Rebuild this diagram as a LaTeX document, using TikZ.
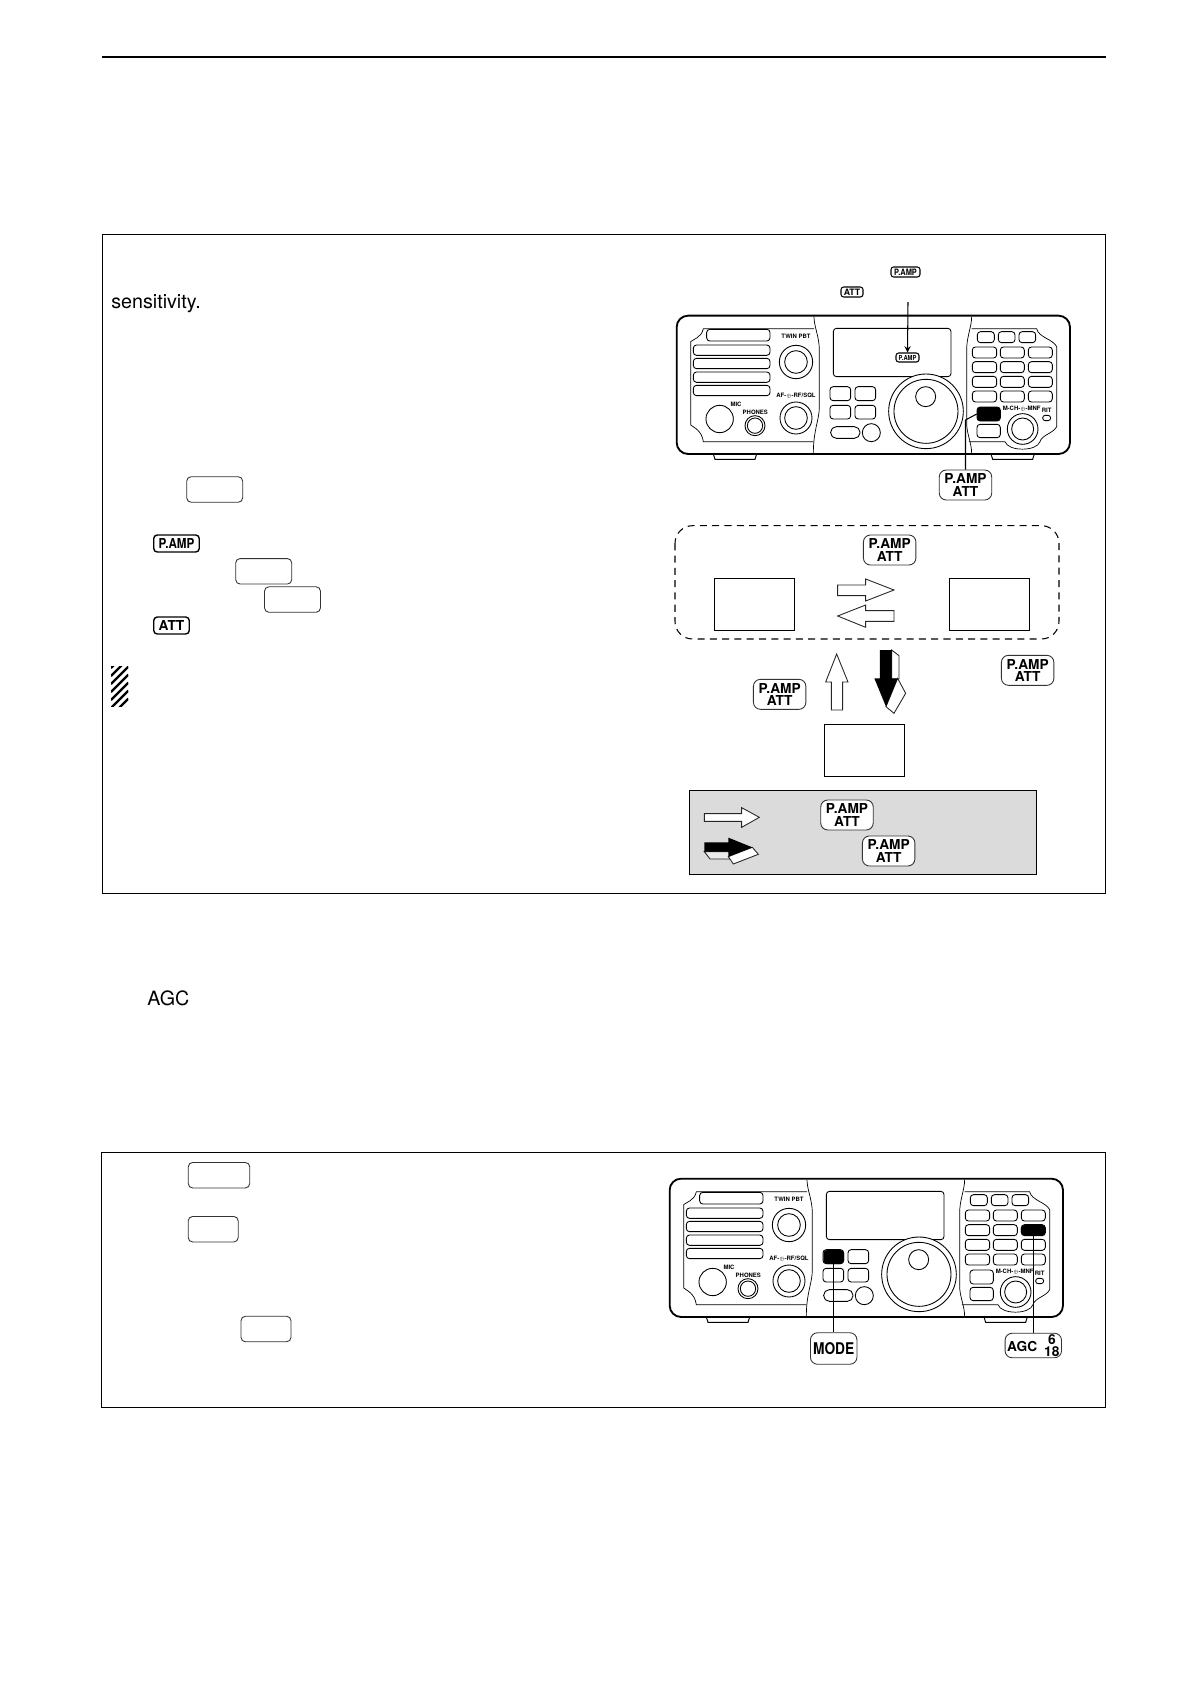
\documentclass[tikz,border=0pt]{standalone}
\usepackage{fontspec}
\setmainfont{TeX Gyre Heros}
\usetikzlibrary{arrows, positioning}

\newcommand{\squeezed}[1]{\scalebox{.85}[1]{#1}}
\newcommand{\knobmark}{\scalebox{.55}{$\oplus$}}

\tikzset{
    framebox/.style={draw, line width=.6pt},
    blankkey/.style={draw=black!80, line width=.5pt, rounded corners=2.5pt, inner sep=0pt, minimum height=.51cm},
    twokey/.style={draw=black!80, fill=white, line width=.5pt, rounded corners=4pt, inner sep=0pt,
        minimum width=1.05cm, minimum height=.6cm, align=center,
        font=\bfseries\fontsize{7.8}{7.2}\selectfont},
    tagbig/.style={draw, line width=.8pt, rounded corners=2pt, inner sep=0pt, minimum height=.34cm,
        font=\bfseries\fontsize{7.8}{8}\selectfont},
    tagsmall/.style={draw, line width=.6pt, rounded corners=1.5pt, fill=white, inner sep=0pt, minimum height=.2cm,
        font=\bfseries\fontsize{5}{5}\selectfont},
    statebox/.style={draw, line width=.5pt, inner sep=0pt, minimum width=1.6cm, minimum height=1.04cm},
    blackkey/.style={fill=black, rounded corners=2pt, inner sep=0pt},
    fatarrow/.style={draw=black!85, fill=white, line width=.5pt},
    panelline/.style={line width=.4pt},
    ctl/.style={draw, line width=.5pt, rounded corners=1.8pt},
    ctllabel/.style={inner sep=0pt, font=\bfseries\fontsize{3.4}{4}\selectfont},
    pics/radio/.style={code={
        \begin{scope}[x=.00667cm, y=-.00667cm]
            % Body and feet
            \draw[line width=.55pt, fill=white] (160,612) -- (165,628) -- (285,628) -- (290,612);
            \draw[line width=.55pt, fill=white] (993,612) -- (998,628) -- (1118,628) -- (1123,612);
            \draw[line width=1.05pt, rounded corners=6.5pt, fill=white] (50,197) rectangle (1230,612);
            % Panel lines
            \draw[panelline] (462,200) .. controls (462,230) and (478,260) .. (478,300) -- (478,470)
                .. controls (478,510) and (460,540) .. (460,610);
            \draw[panelline] (462,236) -- (130,236) .. controls (125,262) and (100,268) .. (92,275)
                -- (92,525) .. controls (100,532) and (125,540) .. (130,575) -- (460,575);
            \draw[panelline] (935,200) .. controls (935,230) and (920,260) .. (920,300) -- (920,520)
                .. controls (920,550) and (935,580) .. (935,610);
            \draw[panelline] (935,236) -- (1130,236) .. controls (1135,262) and (1180,268) .. (1190,290)
                -- (1190,530) .. controls (1180,550) and (1145,555) .. (1140,575);
            \draw[panelline] (927,575) -- (1035,575) .. controls (1045,605) and (1130,605) .. (1140,575);
            % Display
            \draw[ctl] (520,235) rectangle (873,380);
            % Left slots
            \draw[ctl] (140,238) rectangle (330,273);
            \foreach \sy in {285,325,366,406}
                \draw[ctl] (100,\sy) rectangle (330,\sy+31);
            % Left knobs and jacks
            \draw[ctl] (408,336) circle (50);
            \draw[ctl] (408,336) circle (34);
            \draw[ctl] (408,504) circle (48);
            \draw[ctl] (408,504) circle (34);
            \draw[ctl] (179,507) circle (41);
            \draw[ctl] (285,527) circle (30);
            \draw[ctl] (285,527) circle (23);
            \node[ctllabel] (twin) at (408,258) {TWIN PBT};
            \node[ctllabel] (afrf) at (408,436) {AF-\knobmark-RF/SQL};
            \node[ctllabel] (mic) at (228,464) {MIC};
            \node[ctllabel] (phones) at (286,487) {PHONES};
            % Centre keys
            \draw[ctl] (510,410) rectangle (572,452);
            \draw[ctl] (585,410) rectangle (647,452);
            \draw[ctl] (510,466) rectangle (572,507);
            \draw[ctl] (585,466) rectangle (647,507);
            \draw[ctl, rounded corners=3.2pt] (512,530) rectangle (600,565);
            \draw[ctl] (634,548) circle (27);
            % Main dial
            \draw[ctl, fill=white] (798,484) circle (112);
            \draw[ctl] (798,484) circle (96);
            \draw[ctl] (797,440) circle (30);
            % Right keys
            \draw[ctl] (952,245) rectangle (1003,278);
            \draw[ctl] (1015,245) rectangle (1065,278);
            \draw[ctl] (1077,245) rectangle (1127,278);
            \foreach \ky in {291,335,379,423} {
                \draw[ctl] (937,\ky) rectangle (1010,\ky+33);
                \draw[ctl] (1021,\ky) rectangle (1093,\ky+33);
                \draw[ctl] (1105,\ky) rectangle (1177,\ky+33);
            }
            \draw[ctl] (951,471) rectangle (1021,513);
            \draw[ctl] (951,523) rectangle (1021,563);
            % Lower right knob
            \draw[ctl] (1088,537) circle (46);
            \draw[ctl] (1088,537) circle (33);
            \draw[ctl, rounded corners=1.5pt] (1148,496) rectangle (1172,512);
            \node[ctllabel] (mch) at (1085,476) {M-CH-\knobmark-MNF};
            \node[ctllabel] (rit) at (1160,482) {RIT};
        \end{scope}
    }},
}

\begin{document}
\begin{tikzpicture}[>=stealth, x=.02cm, y=-.02cm]
    \useasboundingbox (0,0) rectangle (1191,1684);

    % Top rule and frames
    \draw[line width=1.1pt] (102,57) -- (1106,57);
    \draw[framebox] (102.5,234.5) rectangle (1105.5,893.5);
    \draw[framebox] (101.5,1152.5) rectangle (1105.5,1407.5);

    % Text
    \node[anchor=base west, inner sep=0pt, font=\fontsize{11.2}{13}\selectfont] (sens) at (111,308) {sensitivity.};
    \node[anchor=base west, inner sep=0pt, font=\fontsize{11.2}{13}\selectfont] (agc) at (147,1005) {AGC};

    % Keys and tags on the left
    \node[blankkey, minimum width=1.12cm] (keya) at (214.7,489.5) {};
    \node[blankkey, minimum width=1.12cm] (keyb) at (263.7,571.3) {};
    \node[blankkey, minimum width=1.12cm] (keyc) at (292.5,599.5) {};
    \node[tagbig, minimum width=.91cm] (tagamp) at (176.5,543.5) {\squeezed{P.AMP}};
    \node[tagbig, minimum width=.71cm] (tagatt) at (171.5,625.5) {ATT};
    \node[blankkey, minimum width=1.23cm] (keyd) at (219,1175.2) {};
    \node[blankkey, minimum width=1cm] (keye) at (213.2,1229.2) {};
    \node[blankkey, minimum width=1cm] (keyf) at (266,1329) {};

    % Hatched mark
    \begin{scope}
        \clip (111,666) rectangle (128.3,706);
        \foreach \hy in {668,676,...,716}
            \draw[line width=1.3pt] (111,\hy) -- (128.3,\hy-17.3);
    \end{scope}

    % First radio
    \pic (ra-) at (660,250) {radio};
    \node[tagsmall, minimum width=.58cm] (topamp) at (905.5,272) {\squeezed{P.AMP}};
    \node[tagsmall, minimum width=.44cm] (topatt) at (852,292) {ATT};
    \node[tagsmall, minimum width=.46cm, minimum height=.18cm, font=\bfseries\fontsize{3.9}{5}\selectfont] (dispamp) at (907.5,357.5) {\squeezed{P.AMP}};
    \coordinate (arrstart) at (908,302);
    \draw[->, line width=.6pt] (arrstart) -- (dispamp.north);
    \node[blackkey, minimum width=.466cm, minimum height=.28cm] (ampbtn) at (988.7,414) {};
    \node[twokey] (ampkey) at (965.5,485) {P.AMP\\ATT};
    \coordinate (ampbend) at (965.5,420);
    \draw[line width=.6pt] (ampbtn.west) -- (ampbend) -- (ampkey.north);

    % State diagram
    \begin{scope}[shift={(660,510)}, x=.00667cm, y=-.00667cm]
        \draw[line width=.6pt, dashed, dash pattern=on 4pt off 3pt, rounded corners=10pt] (45,47) rectangle (1197,387);
        \node[twokey] (keytop) at (689,120) {P.AMP\\ATT};
        \node[statebox] (boxleft) at (283,283) {};
        \node[statebox] (boxright) at (988,283) {};
        \node[statebox] (boxbottom) at (613,720) {};
        \draw[fatarrow] (533,225) -- (617,225) -- (617,207) -- (702,240) -- (617,273) -- (617,257) -- (533,257) -- cycle;
        \draw[fatarrow] (702,302) -- (617,302) -- (617,285) -- (533,318) -- (617,352) -- (617,334) -- (702,334) -- cycle;
        \draw[fatarrow] (530,432) -- (564,516) -- (548,516) -- (548,600) -- (514,600) -- (514,516) -- (497,516) -- cycle;
        % Black arrow with its white side
        \draw[fatarrow] (695,420) -- (717,437) -- (717,507) -- (695,507) -- cycle;
        \draw[fatarrow] (713,505) -- (737,550) -- (702,610) -- (678,590) -- cycle;
        \fill[black] (660,420) -- (695,420) -- (695,505) -- (713,505) -- (678,590) -- (643,505) -- (660,505) -- cycle;
        \node[twokey] (keyleft) at (359,553) {P.AMP\\ATT};
        \node[twokey] (keyright) at (1103,481) {P.AMP\\ATT};
        % Legend
        \draw[line width=.6pt, fill=black!14] (88,841) rectangle (1130,1093);
        \draw[fatarrow] (133,911) -- (245,911) -- (245,893) -- (298,922) -- (245,952) -- (245,934) -- (133,934) -- cycle;
        \draw[fatarrow, fill=black!8] (133,1025) -- (150,1047) -- (215,1047) -- (215,1025) -- cycle;
        \draw[fatarrow] (277,1012) -- (295,1033) -- (220,1062) -- (205,1040) -- cycle;
        \fill[black] (133,997) -- (205,997) -- (205,983) -- (277,1012) -- (205,1040) -- (205,1025) -- (133,1025) -- cycle;
        \node[twokey] (keylega) at (561,915) {P.AMP\\ATT};
        \node[twokey] (keylegb) at (686,1023) {P.AMP\\ATT};
    \end{scope}

    % Second radio
    \pic (rb-) at (653,1113) {radio};
    \node[blackkey, minimum width=.414cm, minimum height=.28cm] (modebtn) at (833.7,1257) {};
    \node[blackkey, minimum width=.494cm, minimum height=.214cm] (agcbtn) at (1033.3,1230.3) {};
    \node[twokey, minimum width=.93cm, minimum height=.63cm, font=\bfseries\fontsize{9.2}{10}\selectfont] (modekey) at (833.7,1348.5) {\squeezed{MODE}};
    \node[twokey, minimum width=1.13cm, minimum height=.49cm] (agckey) at (1033.3,1345.5) {AGC\hspace{4pt}\raisebox{-2.8pt}{\shortstack{6\\[-1.5pt]18}}};
    \draw[line width=.6pt] (modebtn.south) -- (modekey.north);
    \draw[line width=.6pt] (agcbtn.south) -- (agckey.north);
\end{tikzpicture}
\end{document}
